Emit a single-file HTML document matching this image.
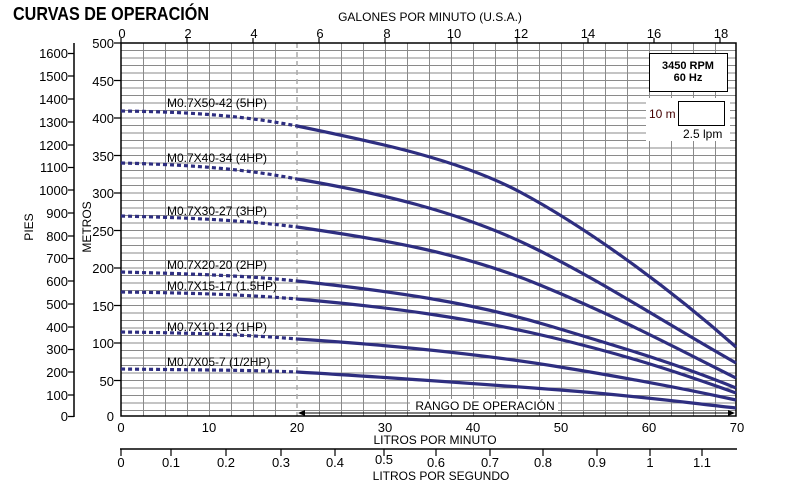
<!DOCTYPE html>
<html><head><meta charset="utf-8"><style>
body{margin:0;background:#fff}
svg{display:block;font-family:"Liberation Sans",Arial,sans-serif}
</style></head><body>
<svg width="785" height="488" viewBox="0 0 785 488" xmlns="http://www.w3.org/2000/svg">
<text x="13" y="20" font-size="18" font-weight="bold" fill="#000" textLength="196" lengthAdjust="spacingAndGlyphs">CURVAS DE OPERACIÓN</text>
<g stroke="#8a8a8a" stroke-width="1" fill="none">
<path d="M143.5 43V416M165.5 43V416M187.5 43V416M209.5 43V416M231.5 43V416M253.5 43V416M275.5 43V416M319.5 43V416M341.5 43V416M363.5 43V416M385.5 43V416M407.5 43V416M429.5 43V416M451.5 43V416M473.5 43V416M495.5 43V416M517.5 43V416M539.5 43V416M561.5 43V416M583.5 43V416M605.5 43V416M627.5 43V416M649.5 43V416M671.5 43V416M693.5 43V416M715.5 43V416"/>
<path d="M121 50.5H736M121 58H736M121 65.5H736M121 73H736M121 80.5H736M121 88H736M121 95.5H736M121 103H736M121 110.5H736M121 118H736M121 125.5H736M121 133H736M121 140.5H736M121 148H736M121 155.5H736M121 163H736M121 170.5H736M121 178H736M121 185.5H736M121 193H736M121 200.5H736M121 208H736M121 215.5H736M121 223H736M121 230.5H736M121 238H736M121 245.5H736M121 253H736M121 260.5H736M121 268H736M121 275.5H736M121 283H736M121 290.5H736M121 298H736M121 305.5H736M121 313H736M121 320.5H736M121 328H736M121 335.5H736M121 343H736M121 350.5H736M121 358H736M121 365.5H736M121 373H736M121 380.5H736M121 388H736M121 395.5H736M121 403H736M121 410.5H736"/>
</g>
<line x1="297" y1="43" x2="297" y2="416" stroke="#aaa" stroke-width="1.5" stroke-dasharray="5,4"/>
<rect x="121" y="43" width="615" height="373" fill="none" stroke="#000" stroke-width="1.5"/>
<g stroke="#000" stroke-width="1.2"><path d="M121 43v-5M187 43v-5M253 43v-5M319 43v-5M385 43v-5M451 43v-5M517 43v-5M588 43v-5M654 43v-5M720 43v-5"/></g>
<g font-size="13" fill="#000" text-anchor="middle">
<text x="122" y="38">0</text><text x="188" y="38">2</text><text x="254" y="38">4</text><text x="320" y="38">6</text><text x="387" y="38">8</text><text x="454" y="38">10</text><text x="521" y="38">12</text><text x="588" y="38">14</text><text x="654" y="38">16</text><text x="721" y="38">18</text>
</g>
<text x="430" y="21" font-size="12" text-anchor="middle">GALONES POR MINUTO (U.S.A.)</text>
<g stroke="#000" stroke-width="1.2"><path d="M114 43h7M114 80.5h7M114 118h7M114 155.5h7M114 193h7M114 230.5h7M114 268h7M114 305.5h7M114 343h7M114 380.5h7"/></g>
<g font-size="13" fill="#000" text-anchor="end">
<text x="114" y="48">500</text><text x="114" y="86">450</text><text x="114" y="123">400</text><text x="114" y="161">350</text><text x="114" y="198">300</text><text x="114" y="236">250</text><text x="114" y="273">200</text><text x="114" y="311">150</text><text x="114" y="348">100</text><text x="114" y="386">50</text><text x="114" y="421">0</text>
</g>
<line x1="74" y1="43" x2="74" y2="417" stroke="#000" stroke-width="1.5"/>
<g stroke="#000" stroke-width="1.2"><path d="M68 53.5h6M68 76h6M68 99h6M68 122h6M68 145h6M68 167.5h6M68 190h6M68 213h6M68 236h6M68 258.5h6M68 281h6M68 304h6M68 327h6M68 349.5h6M68 372h6M68 395h6M68 416.5h6"/></g>
<g font-size="13" fill="#000" text-anchor="end">
<text x="68" y="58">1600</text><text x="68" y="81">1500</text><text x="68" y="104">1400</text><text x="68" y="127">1300</text><text x="68" y="150">1200</text><text x="68" y="172">1100</text><text x="68" y="195">1000</text><text x="68" y="218">900</text><text x="68" y="241">800</text><text x="68" y="263">700</text><text x="68" y="286">600</text><text x="68" y="309">500</text><text x="68" y="332">400</text><text x="68" y="354">300</text><text x="68" y="377">200</text><text x="68" y="400">100</text><text x="68" y="421">0</text>
</g>
<text x="33" y="227" font-size="12" text-anchor="middle" transform="rotate(-90 33 227)">PIES</text>
<text x="91" y="227" font-size="12" text-anchor="middle" transform="rotate(-90 91 227)">METROS</text>
<g font-size="13" fill="#000" text-anchor="middle">
<text x="121" y="432">0</text><text x="209" y="432">10</text><text x="297" y="432">20</text><text x="385" y="432">30</text><text x="473" y="432">40</text><text x="561" y="432">50</text><text x="649" y="432">60</text><text x="737" y="432">70</text>
</g>
<text x="435" y="444" font-size="12" text-anchor="middle">LITROS POR MINUTO</text>
<line x1="120" y1="449" x2="737" y2="449" stroke="#000" stroke-width="1.5"/>
<g stroke="#000" stroke-width="1.2"><path d="M121 449v7M171 449v7M226 449v7M281 449v7M335 449v7M384 449v7M436 449v7M490 449v7M543 449v7M597 449v7M650 449v7M702 449v7"/></g>
<g font-size="13" fill="#000" text-anchor="middle">
<text x="121" y="467">0</text><text x="171" y="467">0.1</text><text x="226" y="467">0.2</text><text x="281" y="467">0.3</text><text x="335" y="467">0.4</text><text x="384" y="464">0.5</text><text x="436" y="467">0.6</text><text x="490" y="467">0.7</text><text x="543" y="467">0.8</text><text x="597" y="467">0.9</text><text x="650" y="467">1</text><text x="702" y="467">1.1</text>
</g>
<text x="441" y="480" font-size="12" text-anchor="middle">LITROS POR SEGUNDO</text>
<rect x="410" y="399" width="148" height="13" fill="#fff"/>
<text x="485" y="410" font-size="12" text-anchor="middle">RANGO DE OPERACIÓN</text>
<line x1="300" y1="413" x2="732" y2="413" stroke="#000" stroke-width="1"/>
<path d="M298 413l7-3v6zM735 413l-7-3v6z" fill="#000"/>
<rect x="649.5" y="53.5" width="78" height="38" fill="#fff" stroke="#000"/>
<text x="688" y="69" font-size="11" font-weight="bold" text-anchor="middle">3450 RPM</text>
<text x="688" y="81" font-size="11" font-weight="bold" text-anchor="middle">60 Hz</text>
<rect x="646" y="98" width="84" height="43" fill="#fff"/>
<rect x="678.5" y="101.5" width="46" height="24" fill="#fff" stroke="#000"/>
<text x="649" y="118" font-size="12" fill="#400">10 m</text>
<text x="683" y="138" font-size="12">2.5 lpm</text>
<g fill="none" stroke="#2e2e80" stroke-width="3.2" stroke-dasharray="4,3">
<path d="M121 111C200 112 250 117 297 126"/>
<path d="M121 163C200 165 250 170 297 179"/>
<path d="M121 216C200 218 250 221 297 227"/>
<path d="M121 272C200 274 250 276 297 281"/>
<path d="M121 292C200 293 250 295 297 299"/>
<path d="M121 332C200 333 250 335 297 339"/>
<path d="M121 369C200 370 250 370 297 372"/>
</g>
<g fill="none" stroke="#2e2e80" stroke-width="3.2">
<path d="M297 126C380 143 460 160 520 192S660 280 736 347"/>
<path d="M297 179C380 193 460 212 530 246S660 320 736 363"/>
<path d="M297 227C380 239 460 252 540 285S670 345 736 378"/>
<path d="M297 281C390 291 470 302 550 326S680 365 736 388"/>
<path d="M297 299C390 307 470 318 550 337S680 373 736 393"/>
<path d="M297 339C390 345 480 354 560 367S690 390 736 400"/>
<path d="M297 372C400 378 480 384 560 390S690 403 736 408"/>
</g>
<g font-size="12" fill="#000">
<text x="167" y="107">M0.7X50-42 (5HP)</text>
<text x="167" y="162">M0.7X40-34 (4HP)</text>
<text x="167" y="215">M0.7X30-27 (3HP)</text>
<text x="167" y="269">M0.7X20-20 (2HP)</text>
<text x="167" y="290">M0.7X15-17 (1.5HP)</text>
<text x="167" y="331">M0.7X10-12 (1HP)</text>
<text x="167" y="366">M0.7X05-7 (1/2HP)</text>
</g>
</svg>
</body></html>
